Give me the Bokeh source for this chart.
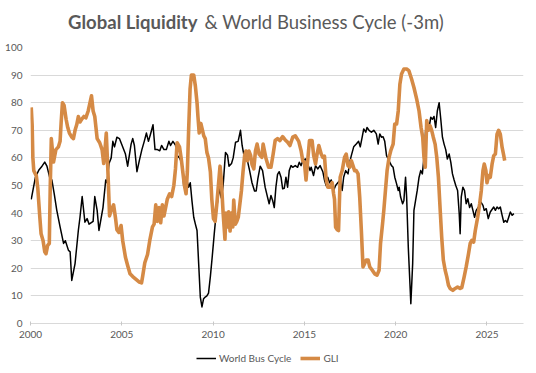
from bokeh.plotting import figure
from bokeh.layouts import column
from bokeh.models import Range1d, FixedTicker, Label, Legend, LegendItem
from bokeh.embed import file_html
from bokeh.resources import INLINE

# ---------------- data ----------------
wbc_year = [2000.04, 2000.27, 2000.45, 2000.63, 2000.78, 2000.90, 2001.05, 2001.17, 2001.30, 2001.44,
            2001.62, 2001.81, 2001.91, 2002.08, 2002.17, 2002.26, 2002.44, 2002.62, 2002.71, 2002.83,
            2002.98, 2003.10, 2003.21, 2003.43, 2003.52, 2003.65, 2003.75, 2003.97, 2004.12, 2004.19,
            2004.30, 2004.42, 2004.51, 2004.60, 2004.73, 2004.87, 2005.02, 2005.20, 2005.32, 2005.51,
            2005.60, 2005.69, 2005.83, 2005.96, 2006.10, 2006.23, 2006.35, 2006.46, 2006.59, 2006.71,
            2006.82, 2006.95, 2007.08, 2007.18, 2007.31, 2007.44, 2007.58, 2007.67, 2007.80, 2007.94,
            2008.03, 2008.16, 2008.30, 2008.39, 2008.52, 2008.66, 2008.75, 2008.84, 2008.94, 2009.03,
            2009.12, 2009.21, 2009.30, 2009.39, 2009.48, 2009.57, 2009.66, 2009.75, 2009.85, 2009.95,
            2010.07, 2010.20, 2010.35, 2010.45, 2010.55, 2010.68, 2010.79, 2010.87, 2011.01, 2011.10,
            2011.23, 2011.37, 2011.50, 2011.59, 2011.73, 2011.88, 2012.00, 2012.13, 2012.27, 2012.36,
            2012.45, 2012.58, 2012.71, 2012.85, 2012.98, 2013.07, 2013.17, 2013.26, 2013.35, 2013.44,
            2013.53, 2013.62, 2013.72, 2013.81, 2013.90, 2013.99, 2014.08, 2014.17, 2014.27, 2014.36,
            2014.50, 2014.63, 2014.72, 2014.82, 2014.91, 2015.06, 2015.18, 2015.31, 2015.37, 2015.50,
            2015.61, 2015.73, 2015.86, 2016.01, 2016.10, 2016.19, 2016.28, 2016.38, 2016.47, 2016.60,
            2016.71, 2016.83, 2016.96, 2017.07, 2017.15, 2017.26, 2017.39, 2017.48, 2017.57, 2017.70,
            2017.84, 2017.97, 2018.06, 2018.17, 2018.25, 2018.36, 2018.43, 2018.54, 2018.67, 2018.80,
            2018.94, 2019.04, 2019.13, 2019.22, 2019.31, 2019.40, 2019.50, 2019.59, 2019.77, 2019.86,
            2019.95, 2020.05, 2020.14, 2020.19, 2020.27, 2020.38, 2020.45, 2020.54, 2020.60, 2020.69,
            2020.78, 2020.83, 2020.93, 2021.00, 2021.09, 2021.18, 2021.28, 2021.37, 2021.46, 2021.55,
            2021.64, 2021.73, 2021.83, 2021.92, 2022.01, 2022.10, 2022.19, 2022.28, 2022.38, 2022.47,
            2022.56, 2022.65, 2022.74, 2022.83, 2022.93, 2023.02, 2023.11, 2023.20, 2023.29, 2023.39,
            2023.48, 2023.53, 2023.59, 2023.68, 2023.77, 2023.86, 2023.95, 2024.05, 2024.14, 2024.23,
            2024.32, 2024.41, 2024.54, 2024.67, 2024.78, 2024.85, 2024.96, 2025.07, 2025.18, 2025.37,
            2025.46, 2025.55, 2025.64, 2025.73, 2025.83, 2025.92, 2026.01, 2026.10, 2026.19, 2026.28,
            2026.38, 2026.47]
wbc_value = [45, 53, 55.5, 57, 58.5, 57, 53, 52, 47, 41,
             35, 29, 30, 26.5, 26, 15.6, 21.7, 33.7, 38.5, 46,
             36.7, 38, 36, 37, 46, 41, 33.7, 42, 52, 51,
             58, 60, 66, 64, 67.5, 67, 64.5, 61.4, 57, 65,
             67, 64.5, 55, 59, 63, 66, 69, 66, 69, 72,
             63, 63, 62.6, 64.5, 63, 63, 66, 64.5, 66, 64.6,
             61, 60, 58, 50, 53, 49.4, 51, 44.6, 38.5, 36,
             33.7, 21.7, 9.6, 6, 9, 9.6, 10, 11, 17, 24,
             33, 42, 49, 45.5, 50, 62, 61, 57, 58, 60,
             65.7, 66, 70, 64.5, 59.6, 59, 55.4, 51, 48, 48,
             52.4, 57, 55.4, 49.4, 45.8, 43.4, 46.4, 44.6, 42, 49.4,
             54, 55, 53, 48.8, 49, 53, 49.4, 55.4, 57.2, 56.6,
             57.2, 56.6, 58.4, 57.2, 59, 59.6, 57.8, 55.4, 56.6, 53.6,
             57.2, 56, 57.2, 55, 52, 50, 53, 51, 52, 48.2,
             50, 51, 52, 48.2, 53, 55.4, 54.2, 58.4, 60.8, 64,
             65, 66, 64, 67.7, 70.5, 69.3, 71, 70, 69.3, 70,
             68.7, 65, 68.7, 67.5, 67.7, 66, 60.8, 59.6, 57.2, 56.6,
             53, 50.6, 48.2, 49.4, 45.8, 43.4, 44.6, 53, 45.8, 27.7,
             14.5, 7.2, 21.7, 41, 44.6, 48.2, 53, 55.4, 54.2, 60.2,
             70, 72.3, 71, 74.7, 74, 75, 71, 77, 80, 74,
             67.5, 65, 63, 59.6, 61.4, 58.4, 54.2, 52, 50, 48.2,
             39.8, 32.5, 45.8, 49.4, 48.2, 43.4, 45.2, 42, 43.4, 41,
             38.5, 41, 42.2, 44, 42.8, 41, 41.6, 38, 40.4, 42.2,
             41, 42.2, 41.6, 42.2, 39.2, 36.7, 37.3, 36.7, 38.5, 40.4,
             39.2, 39.8]

gli_year = [2000.04, 2000.09, 2000.13, 2000.18, 2000.32, 2000.40, 2000.51, 2000.58, 2000.69, 2000.78,
            2000.85, 2000.94, 2001.03, 2001.08, 2001.14, 2001.26, 2001.39, 2001.53, 2001.62, 2001.68,
            2001.75, 2001.84, 2001.95, 2002.04, 2002.13, 2002.26, 2002.35, 2002.44, 2002.53, 2002.62,
            2002.71, 2002.80, 2002.92, 2003.03, 2003.16, 2003.34, 2003.43, 2003.52, 2003.65, 2003.79,
            2003.92, 2004.01, 2004.08, 2004.15, 2004.24, 2004.33, 2004.42, 2004.55, 2004.66, 2004.73,
            2004.84, 2004.96, 2005.05, 2005.20, 2005.32, 2005.45, 2005.60, 2005.78, 2005.96, 2006.08,
            2006.14, 2006.26, 2006.41, 2006.53, 2006.68, 2006.77, 2006.86, 2006.95, 2007.04, 2007.13,
            2007.22, 2007.31, 2007.49, 2007.62, 2007.73, 2007.85, 2007.94, 2008.03, 2008.16, 2008.25,
            2008.34, 2008.43, 2008.52, 2008.59, 2008.66, 2008.74, 2008.81, 2008.94, 2009.03, 2009.12,
            2009.17, 2009.24, 2009.33, 2009.42, 2009.49, 2009.57, 2009.66, 2009.75, 2009.85, 2009.93,
            2010.02, 2010.11, 2010.20, 2010.29, 2010.38, 2010.45, 2010.55, 2010.65, 2010.70, 2010.78,
            2010.85, 2010.93, 2011.00, 2011.08, 2011.13, 2011.22, 2011.30, 2011.38, 2011.55, 2011.64,
            2011.73, 2011.80, 2011.88, 2011.96, 2012.05, 2012.13, 2012.23, 2012.32, 2012.41, 2012.52,
            2012.67, 2012.74, 2012.89, 2013.04, 2013.17, 2013.29, 2013.40, 2013.53, 2013.66, 2013.81,
            2013.95, 2014.08, 2014.21, 2014.36, 2014.50, 2014.69, 2014.82, 2014.91, 2015.00, 2015.09,
            2015.18, 2015.28, 2015.42, 2015.51, 2015.61, 2015.68, 2015.79, 2015.92, 2016.01, 2016.10,
            2016.19, 2016.28, 2016.41, 2016.52, 2016.60, 2016.65, 2016.71, 2016.80, 2016.87, 2016.96,
            2017.07, 2017.20, 2017.29, 2017.39, 2017.48, 2017.57, 2017.66, 2017.75, 2017.84, 2017.94,
            2018.03, 2018.12, 2018.21, 2018.30, 2018.39, 2018.49, 2018.58, 2018.72, 2018.85, 2018.98,
            2019.09, 2019.17, 2019.28, 2019.35, 2019.44, 2019.53, 2019.64, 2019.73, 2019.86, 2019.95,
            2020.05, 2020.14, 2020.23, 2020.32, 2020.45, 2020.60, 2020.72, 2020.87, 2021.00, 2021.15,
            2021.28, 2021.39, 2021.48, 2021.55, 2021.62, 2021.70, 2021.79, 2021.88, 2021.97, 2022.06,
            2022.16, 2022.25, 2022.34, 2022.43, 2022.52, 2022.61, 2022.71, 2022.80, 2022.89, 2022.98,
            2023.13, 2023.26, 2023.39, 2023.53, 2023.62, 2023.75, 2023.86, 2023.99, 2024.08, 2024.17,
            2024.27, 2024.36, 2024.49, 2024.60, 2024.69, 2024.78, 2024.85, 2024.94, 2025.00, 2025.09,
            2025.18, 2025.28, 2025.37, 2025.46, 2025.55, 2025.64, 2025.73, 2025.83, 2025.92, 2025.97]
gli_value = [78.3, 72, 60, 55.4, 53.5, 49, 38.5, 32.5, 30, 26,
             25.3, 28.3, 29, 49, 67, 58.5, 63, 64, 66, 73,
             80, 79, 74, 71, 69, 67.5, 67, 70, 72, 75,
             73, 74, 75, 74.5, 77, 82.5, 77, 75, 67, 65.5,
             63, 58, 63, 69, 55, 39, 41, 43, 38, 34,
             33, 35.5, 30, 24, 21, 18, 17, 16, 15, 14.7,
             17, 22, 25, 30, 35, 36, 43, 37, 42, 36.5,
             43, 39, 45, 47, 46, 50, 56, 65.5, 64, 60,
             55, 50, 47, 55, 70, 85, 90, 90, 86, 80,
             75, 69, 72.5, 70, 68, 67, 62, 60, 55, 45,
             38, 37, 43, 50, 57, 52, 40, 30.5, 40, 35,
             40.5, 33.5, 40, 35, 44.7, 36, 37, 38.5, 48, 55,
             61, 62.5, 59, 62.5, 61, 57.7, 56, 62.5, 65, 61.4,
             60.2, 65, 60, 56.6, 56.6, 61.4, 66.3, 67, 66.3, 67.7,
             66.5, 65.7, 64.5, 67.5, 68, 66, 62.6, 59, 58.4, 52,
             59, 66.3, 66.3, 60.8, 57.8, 60.8, 64.5, 61.4, 60.2, 60.6,
             52.4, 49.4, 49.4, 51, 47, 45, 34.9, 34, 33.7, 53,
             55.4, 60.2, 61.4, 57.2, 56.6, 59, 57.2, 55.4, 55.4, 54.2,
             45.8, 33.7, 20.5, 21.7, 23, 23, 20.5, 19.3, 18, 17.5,
             19.3, 29, 36.1, 41, 48.2, 55.4, 60.2, 62.6, 65, 72.3,
             72.3, 77, 86.7, 90.4, 92.2, 92.2, 91.6, 88.6, 85.5, 81.3,
             77, 71, 67.5, 60.2, 56.6, 73.5, 70, 71.7, 70, 67.5,
             65, 60.2, 53, 42, 31.3, 23, 19.3, 16.9, 13.9, 12.7,
             12, 12.7, 13.2, 12.7, 13, 16.9, 20.5, 25.3, 29, 30.1,
             29.5, 33.7, 38.5, 43.4, 48.2, 55.4, 57.8, 55.4, 51, 53.6,
             53, 57.8, 60.8, 61.4, 68.6, 70, 68.6, 63.8, 60.8, 59]

x_ticks = [2000, 2005, 2010, 2015, 2020, 2025]
y_ticks = [0, 10, 20, 30, 40, 50, 60, 70, 80, 90, 100]

title_bold = "Global Liquidity"
title_rest = "& World Business Cycle (-3m)"
label_wbc = "World Bus Cycle"
label_gli = "GLI"

# ---------------- styling ----------------
FONT = "Lato"
TXT = "#595959"
GRID = "#d9d9d9"
ORANGE = "#D58A45"
W = 536
LEFT = 30     # frame left edge (px)
RIGHT = 13    # space right of the frame (px)


def strip(h):
    fig = figure(width=W, height=h, output_backend="svg", toolbar_location=None,
                 x_range=Range1d(LEFT, W - RIGHT), y_range=Range1d(0, h),
                 x_axis_location=None, y_axis_location=None,
                 min_border=0, min_border_left=LEFT, min_border_right=RIGHT,
                 min_border_top=0, min_border_bottom=0)
    fig.grid.visible = False
    fig.outline_line_color = None
    fig.background_fill_color = "white"
    fig.border_fill_color = "white"
    return fig


# ---- title strip ----
t = strip(40)
t.add_layout(Label(x=197, y=19, text=title_bold, text_align="right", text_baseline="alphabetic",
                   text_font=FONT, text_font_style="bold", text_font_size="18.5px", text_color=TXT))
t.add_layout(Label(x=204, y=19, text=title_rest, text_align="left", text_baseline="alphabetic",
                   text_font=FONT, text_font_size="18.5px", text_color=TXT))

# ---- main chart ----
p = figure(width=W, height=303, output_backend="svg", toolbar_location=None,
           x_range=Range1d(2000, 2027), y_range=Range1d(0, 100))
p.min_border_left = LEFT
p.min_border_right = RIGHT
p.min_border_top = 7
p.min_border_bottom = 20
p.outline_line_color = None
p.background_fill_color = "white"
p.border_fill_color = "white"

r1 = p.line(wbc_year, wbc_value, line_color="black", line_width=1.5, line_join="round")
r2 = p.line(gli_year, gli_value, line_color=ORANGE, line_width=3.6, line_join="round")

p.xgrid.visible = False
p.ygrid.grid_line_color = GRID
p.ygrid.grid_line_width = 1
p.yaxis.ticker = FixedTicker(ticks=y_ticks)
p.xaxis.ticker = FixedTicker(ticks=x_ticks)
p.xaxis.minor_tick_line_color = None
p.yaxis.minor_tick_line_color = None
p.yaxis.axis_line_color = None
p.yaxis.major_tick_line_color = None
p.yaxis.major_tick_in = 0
p.yaxis.major_tick_out = 0
p.yaxis.major_label_standoff = 8
p.xaxis.axis_line_color = GRID
p.xaxis.major_tick_line_color = "#c8c8c8"
p.xaxis.major_tick_in = 2
p.xaxis.major_tick_out = 2
p.xaxis.major_label_standoff = 5
for ax in (p.xaxis[0], p.yaxis[0]):
    ax.major_label_text_font = FONT
    ax.major_label_text_font_size = "10px"
    ax.major_label_text_color = TXT

# ---- legend strip (series keys, styled like the chart's lines) ----
lg = strip(30)
nan = float("nan")
k1 = lg.line(x=[nan], y=[nan], line_color="black", line_width=1.5)
k2 = lg.line(x=[nan], y=[nan], line_color=ORANGE, line_width=3.6)
legend = Legend(items=[LegendItem(label=label_wbc, renderers=[k1]),
                       LegendItem(label=label_gli, renderers=[k2])],
                orientation="horizontal", location=(166, 9),
                border_line_color=None, background_fill_alpha=0,
                label_text_font=FONT, label_text_font_size="10px", label_text_color=TXT,
                glyph_width=20, glyph_height=10, label_standoff=3, spacing=9,
                padding=2, margin=0, label_height=10)
lg.add_layout(legend)

layout = column(t, p, lg, spacing=0)
open("out.html", "w").write(file_html(layout, INLINE))
